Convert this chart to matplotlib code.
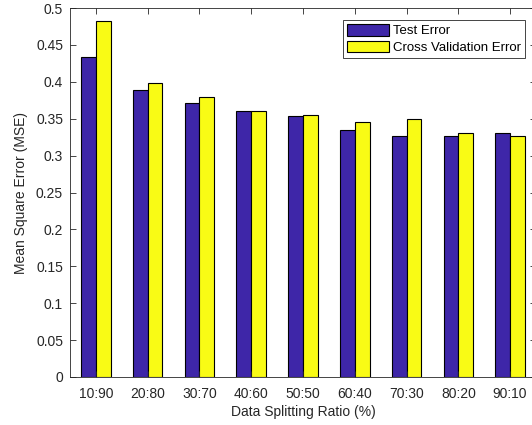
import numpy as np
import matplotlib
matplotlib.use("Agg")
import matplotlib.pyplot as plt

# data
ratios = ["10:90", "20:80", "30:70", "40:60", "50:50", "60:40", "70:30", "80:20", "90:10"]
test_err = [0.433, 0.389, 0.371, 0.360, 0.353, 0.335, 0.327, 0.327, 0.331]
cv_err = [0.482, 0.398, 0.380, 0.361, 0.355, 0.346, 0.350, 0.330, 0.326]

BLUE = "#3E26A8"
YELLOW = "#F9FB15"
DARK = "#262626"

plt.rcParams["font.family"] = ["Liberation Sans", "DejaVu Sans"]
plt.rcParams["font.size"] = 10

fig = plt.figure(figsize=(5.32, 4.25), dpi=100)
# axes runs a bit past the right edge, like the cropped original
ax = fig.add_axes([70 / 532, (425 - 377) / 425, 466 / 532, 369 / 425])

x = np.arange(1, len(ratios) + 1)
w = 0.285
ax.bar(x - w / 2, test_err, w, color=BLUE, edgecolor="black", linewidth=0.8, label="Test Error")
ax.bar(x + w / 2, cv_err, w, color=YELLOW, edgecolor="black", linewidth=0.8, label="Cross Validation Error")

ax.set_xlim(0.5, 9.5)
ax.set_ylim(0, 0.5)
ax.set_xticks(x)
ax.set_xticklabels(ratios)
yt = np.arange(0, 0.501, 0.05)
ax.set_yticks(yt)
ax.set_yticklabels(["0"] + [f"{v:g}" for v in yt[1:]])
ax.tick_params(direction="in", top=True, right=True, length=4, width=0.6, colors=DARK)
ax.tick_params(axis="x", pad=7)
ax.tick_params(axis="y", pad=5)
for s in ax.spines.values():
    s.set_linewidth(0.6)
    s.set_color(DARK)

ax.set_xlabel("Data Splitting Ratio (%)", color=DARK, labelpad=3)
ax.set_ylabel("Mean Square Error (MSE)", color=DARK, labelpad=6)

leg = ax.legend(loc="upper right", bbox_to_anchor=(455 / 466, 1 - 12 / 369),
                bbox_transform=ax.transAxes, fancybox=False, framealpha=1,
                edgecolor=DARK, fontsize=9.5, handlelength=3.2, handleheight=1.0,
                borderpad=0.3, labelspacing=0.25, handletextpad=0.3, borderaxespad=0)
leg.get_frame().set_linewidth(0.6)

fig.savefig("out.png", dpi=100)
